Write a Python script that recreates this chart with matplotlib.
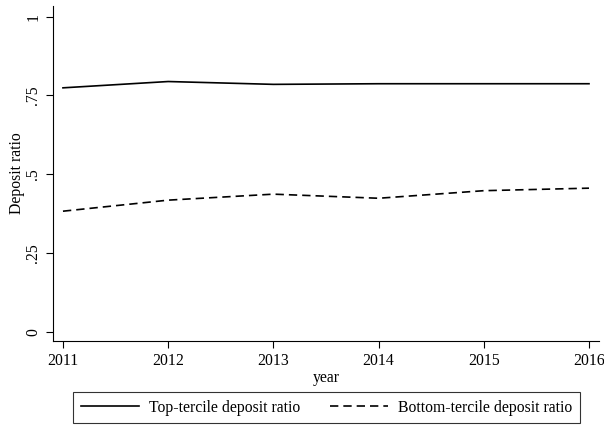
import matplotlib
matplotlib.use("Agg")
import matplotlib.pyplot as plt

# values
years = [2011, 2012, 2013, 2014, 2015, 2016]
top_tercile = [0.774, 0.794, 0.785, 0.787, 0.787, 0.787]
bottom_tercile = [0.383, 0.418, 0.437, 0.424, 0.448, 0.456]
y_ticks = [0, 0.25, 0.5, 0.75, 1]
y_tick_labels = ["0", ".25", ".5", ".75", "1"]

plt.rcParams['font.family'] = ['Liberation Serif', 'DejaVu Serif']
plt.rcParams['font.size'] = 11.3

fig = plt.figure(figsize=(6.04, 4.25), dpi=100)
ax = fig.add_axes([0.0877, 0.1976, 0.904, 0.788])

ax.plot(years, top_tercile, color='black', lw=1.2, label='Top-tercile deposit ratio')
ax.plot(years, bottom_tercile, color='black', lw=1.2, ls=(0, (5, 3)),
        label='Bottom-tercile deposit ratio')

ax.set_xlim(2010.905, 2016.095)
ax.set_ylim(-0.0285, 1.033)
ax.set_xticks(years)
ax.set_yticks(y_ticks)
ax.set_yticklabels(y_tick_labels, rotation=90, va='center')
ax.tick_params(direction='out', length=5, width=0.8)

ax.spines['top'].set_visible(False)
ax.spines['right'].set_visible(False)

ax.set_xlabel('year', labelpad=1)
ax.set_ylabel('Deposit ratio', labelpad=0)

leg = fig.legend(loc='center', bbox_to_anchor=(0.5406, 0.041), ncol=2,
                 frameon=True, fancybox=False, edgecolor='black',
                 handlelength=3.7, handletextpad=0.65, columnspacing=1.9,
                 borderpad=0.5, borderaxespad=0)
leg.get_frame().set_linewidth(0.8)

fig.savefig('out.png', dpi=100, facecolor='white')
